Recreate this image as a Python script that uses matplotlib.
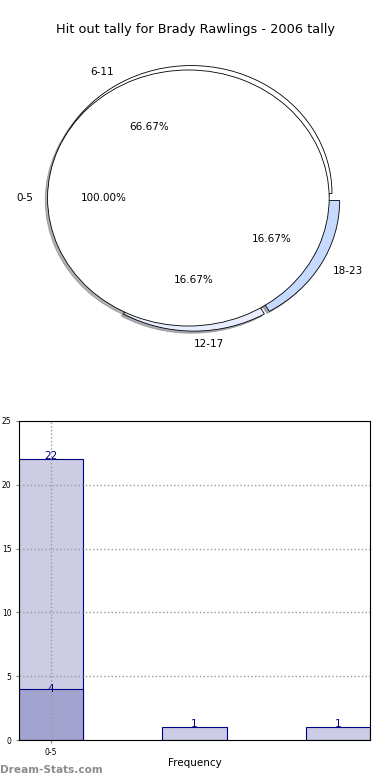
import numpy as np
import matplotlib
matplotlib.use('Agg')
from matplotlib import pyplot as plt

title = 'Hit out tally for Brady Rawlings - 2006 tally'
pie1_labels = ['0-5']
pie1_values = [1]
pie2_labels = ['6-11', '12-17', '18-23']
pie2_values = [4, 1, 1]

bar_cats = ['0-5', '6-11', '12-17']
bar_total = [22, 1, 1]
bar_part = [4]

fig = plt.figure(figsize=(3.9, 7.8), dpi=100)

# pie part
shadow = {'ox': -0.012, 'oy': -0.012, 'shade': 0.6}
ax1 = fig.add_axes([18/390, 422/780, 352/390, 320/780])
w2, t2, p2 = ax1.pie(pie2_values, labels=pie2_labels, autopct='%.2f%%', explode=[0.04]*3,
                     colors=['white', '#e8eeff', '#c6d9ff'], shadow=shadow,
                     wedgeprops=dict(edgecolor='black', linewidth=0.6),
                     textprops=dict(fontsize=7.5))
t2[1].set_ha('left')
ax1.pie(pie1_values, labels=pie1_labels, autopct='%.2f%%', explode=[0.04],
        colors=['white'], shadow=shadow,
        wedgeprops=dict(edgecolor='black', linewidth=0.6),
        textprops=dict(fontsize=7.5))
ax1.set_aspect('auto')
ax1.set_xlim(-1.25, 1.25)
ax1.set_ylim(-1.25, 1.25)
fig.text(0.5, 1 - 30/780, title, ha='center', va='center', fontsize=9.3)

# bar part
ax2 = fig.add_axes([19/390, 40/780, 351/390, 319/780])
x = np.arange(len(bar_cats))
w = 0.45
ax2.bar(x, bar_total, w, color='#ccccE4', edgecolor='#000080', linewidth=0.8)
ax2.bar(x[:len(bar_part)], bar_part, w, color='#a3a3d0', edgecolor='#000080', linewidth=0.8)
for xi, v in zip(x, bar_total):
    ax2.text(xi, v - 0.1, str(v), ha='center', va='bottom', color='#000080', fontsize=7.5)
for xi, v in zip(x, bar_part):
    ax2.text(xi, v - 0.4, str(v), ha='center', va='bottom', color='#000080', fontsize=7.5)
ax2.set_xlim(-w/2, x[-1] + w/2)
ax2.set_ylim(0, 25)
ax2.set_xticks([0])
ax2.set_xticklabels(['0-5'])
ax2.set_yticks(range(0, 26, 5))
ax2.tick_params(labelsize=5.5, length=2, color='gray')
ax2.grid(True, linestyle=':', color='#999999', linewidth=1)
ax2.set_xlabel('Frequency', fontsize=7.5, labelpad=1)
ax2.xaxis.set_label_coords(0.5, -0.055)
ax2.set_ylabel('Hit Outs Tally', fontsize=6)
ax2.yaxis.set_label_coords(-0.05, 0.5)

fig.text(0.0, 1 - 770/780, 'Dream-Stats.com', ha='left', va='center',
         fontsize=7.6, color='#8c8c8c', fontweight='bold')

plt.savefig('out.png')
